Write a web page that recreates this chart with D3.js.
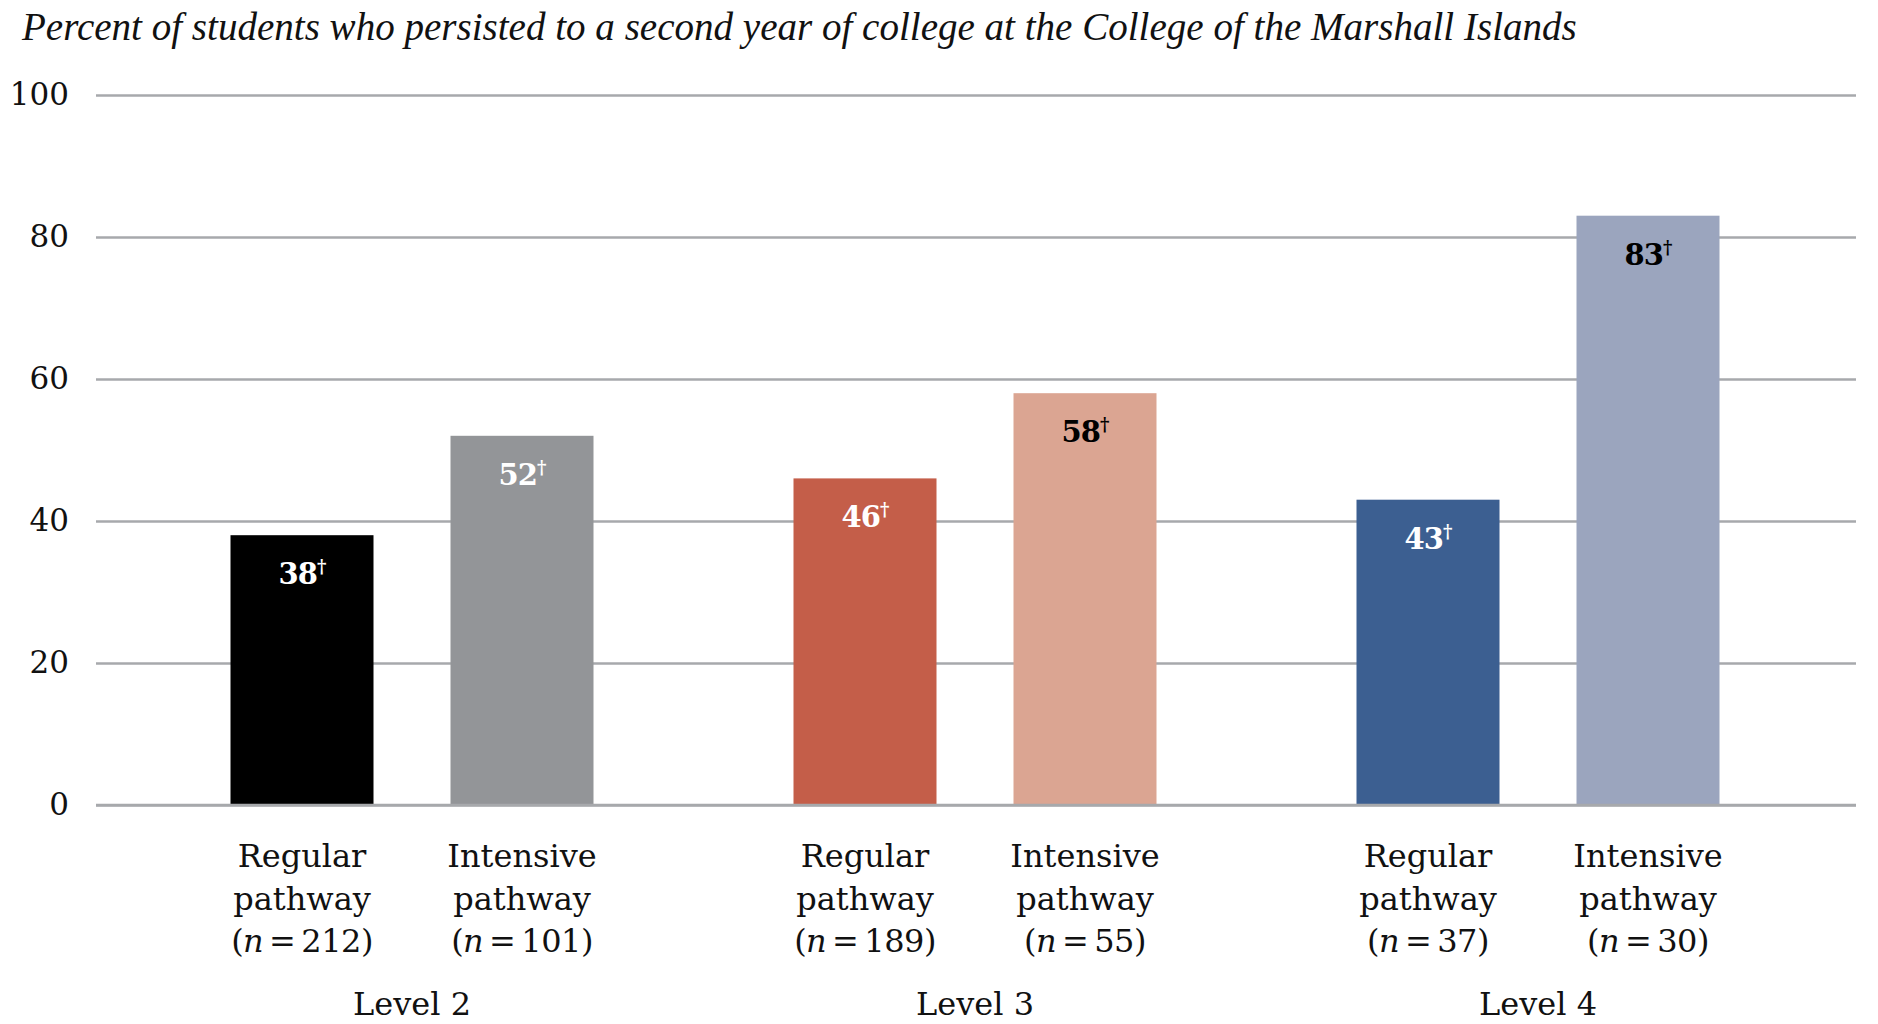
<!DOCTYPE html>
<html>
<head>
<meta charset="utf-8">
<script src="https://cdn.jsdelivr.net/npm/d3@7"></script>
<style>
  html, body { margin: 0; padding: 0; background: #fff; }
  svg { display: block; }
</style>
</head>
<body>
<svg id="chart" width="1878" height="1024"></svg>
<script>
const titleText = "Percent of students who persisted to a second year of college at the College of the Marshall Islands";
const levels = ["Level 2", "Level 3", "Level 4"];
const pathways = ["Regular", "Intensive"];
const regularValues = [38, 46, 43];
const intensiveValues = [52, 58, 83];
const regularN = [212, 189, 37];
const intensiveN = [101, 55, 30];
const regularColors = ["#000000", "#C45E49", "#3C5F91"];
const intensiveColors = ["#939598", "#DBA592", "#9BA5BE"];
const regularLabelColors = ["#ffffff", "#ffffff", "#ffffff"];
const intensiveLabelColors = ["#ffffff", "#000000", "#000000"];
const yTicks = [0, 20, 40, 60, 80, 100];

const rows = [];
levels.forEach((lv, i) => {
  rows.push({level: lv, pathway: "Regular", value: regularValues[i], n: regularN[i], color: regularColors[i], lc: regularLabelColors[i]});
  rows.push({level: lv, pathway: "Intensive", value: intensiveValues[i], n: intensiveN[i], color: intensiveColors[i], lc: intensiveLabelColors[i]});
});

const svg = d3.select("#chart");
const serif = "'DejaVu Serif', serif";
const gridLeft = 96, gridRight = 1856;

const y = d3.scaleLinear().domain([0, 100]).range([805, 95]);
const x0 = d3.scaleBand().domain(levels).range([130.5, 1819.5]).paddingInner(0).paddingOuter(0);
const x1 = d3.scaleBand().domain(pathways).range([100, x0.bandwidth() - 100]).paddingInner(0.35).paddingOuter(0);

// Title
const title = svg.append("text")
  .attr("x", 22).attr("y", 40)
  .attr("font-family", "'Liberation Serif', serif")
  .attr("font-style", "italic")
  .attr("font-size", 34)
  .attr("fill", "#111")
  .text(titleText);
const tw = title.node().getComputedTextLength();
title.attr("font-size", 34 * 1555 / tw);

// Grid / y axis
const yAxis = d3.axisLeft(y).tickValues(yTicks).tickSize(-(gridRight - gridLeft)).tickPadding(27);
const ga = svg.append("g").attr("transform", `translate(${gridLeft},0)`).call(yAxis);
ga.select(".domain").remove();
ga.selectAll(".tick line").attr("stroke", "#A7A9AC").attr("stroke-width", 2.5);
ga.selectAll(".tick text")
  .attr("font-family", serif).attr("font-size", 31).attr("fill", "#111");

// Bars
const groups = svg.append("g").selectAll("g").data(rows).join("g")
  .attr("transform", d => `translate(${x0(d.level)},0)`);

groups.append("rect")
  .attr("x", d => x1(d.pathway))
  .attr("width", x1.bandwidth())
  .attr("y", d => y(d.value))
  .attr("height", d => y(0) - y(d.value))
  .attr("fill", d => d.color);

// Value labels
const vl = groups.append("text")
  .attr("x", d => x1(d.pathway) + x1.bandwidth() / 2)
  .attr("y", d => y(d.value) + 49)
  .attr("text-anchor", "middle")
  .attr("font-family", serif)
  .attr("font-weight", "bold")
  .attr("font-size", 29)
  .attr("letter-spacing", -1)
  .attr("fill", d => d.lc);
vl.append("tspan").text(d => d.value);
vl.append("tspan").attr("font-size", 18).attr("dy", -11).text("\u2020");

// Axis baseline
svg.append("line")
  .attr("x1", gridLeft).attr("x2", gridRight)
  .attr("y1", y(0)).attr("y2", y(0))
  .attr("stroke", "#A7A9AC").attr("stroke-width", 2.5);

// Category labels
const lab = groups.append("text")
  .attr("text-anchor", "middle")
  .attr("font-family", serif)
  .attr("font-size", 32)
  .attr("fill", "#111");
const cx = d => x1(d.pathway) + x1.bandwidth() / 2;
lab.append("tspan").attr("x", cx).attr("y", 867).text(d => d.pathway);
lab.append("tspan").attr("x", cx).attr("y", 910).text("pathway");
const t3 = lab.append("tspan").attr("x", cx).attr("y", 952).attr("letter-spacing", -0.5).text("(");
lab.append("tspan").attr("font-style", "italic").attr("letter-spacing", -0.5).text("n");
lab.append("tspan").attr("letter-spacing", -0.5).text(d => "\u2009=\u2009" + d.n + ")");

// Level labels
svg.append("g").selectAll("text").data(levels).join("text")
  .attr("x", d => x0(d) + x0.bandwidth() / 2)
  .attr("y", 1015)
  .attr("text-anchor", "middle")
  .attr("font-family", serif)
  .attr("font-size", 32)
  .attr("fill", "#111")
  .text(d => d);
</script>
</body>
</html>
